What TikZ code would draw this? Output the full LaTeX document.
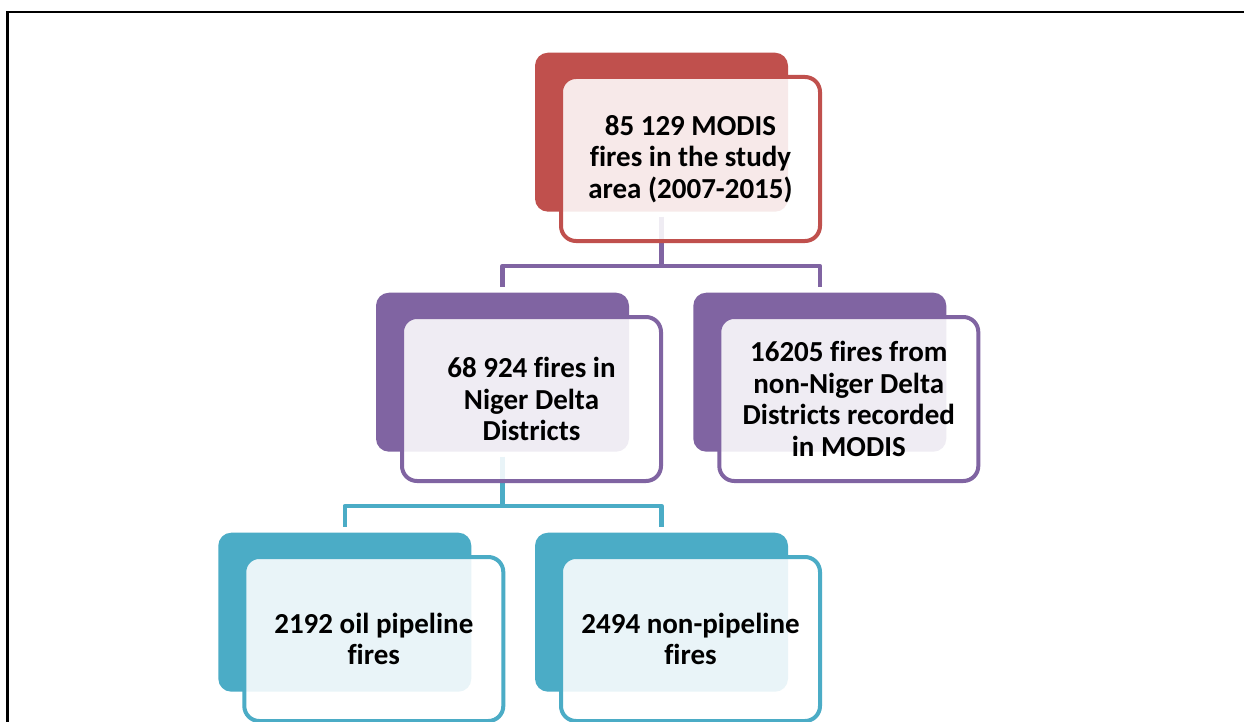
\documentclass[tikz,border=0pt]{standalone}
\usepackage{fontspec}
\setmainfont{Carlito}[Ligatures=NoCommon]
\usetikzlibrary{calc}
\pgfdeclarelayer{back}
\pgfdeclarelayer{bg}
\pgfsetlayers{back,bg,main}
\definecolor{cred}{HTML}{C0504D}
\definecolor{cpurple}{HTML}{8064A2}
\definecolor{cteal}{HTML}{4BACC6}
\begin{document}
\begin{tikzpicture}[x=1pt,y=-1pt,
  darkbox/.style={rectangle, rounded corners=13pt, minimum width=253pt, minimum height=159pt, fill=#1, inner sep=0pt},
  frontbox/.style={rectangle, rounded corners=15pt, minimum width=259pt, minimum height=164pt, draw=#1, line width=4pt, fill=white, fill opacity=0.88, text opacity=1, align=center, inner sep=0pt, font=\fontsize{29}{31.5}\selectfont\bfseries},
  conn/.style={draw=#1, line width=4.5pt, line join=round},
  frame/.style={line width=2.2pt, draw=black}]
\clip (0,0) rectangle (1244,722);
\begin{pgfonlayer}{back}
\fill[white] (0,0) rectangle (1244,722);
\end{pgfonlayer}
% frame
\draw[frame] (7.5,760) -- (7.5,12) -- (1260,12);
% dark back boxes
\node[darkbox=cred]    (d1) at (661.5,132.2) {};
\node[darkbox=cpurple] (d2) at (502.5,372.2) {};
\node[darkbox=cpurple] (d3) at (819.8,372.2) {};
\node[darkbox=cteal]   (d4) at (344.8,612.2) {};
\node[darkbox=cteal]   (d5) at (661.5,612.2) {};
% front boxes
\node[frontbox=cred]    (f1) at ($(d1)+(29,26.8)$) {85 129 MODIS\\fires in the study\\area (2007-2015)};
\node[frontbox=cpurple] (f2) at ($(d2)+(29,26.8)$) {68 924 fires in\\Niger Delta\\Districts};
\node[frontbox=cpurple] (f3) at ($(d3)+(29,26.8)$) {16205 fires from\\non-Niger Delta\\Districts recorded\\in MODIS};
\node[frontbox=cteal]   (f4) at ($(d4)+(29,26.8)$) {2192 oil pipeline\\fires};
\node[frontbox=cteal]   (f5) at ($(d5)+(29,26.8)$) {2494 non-pipeline\\fires};
% connectors (below the boxes)
\begin{pgfonlayer}{bg}
\draw[conn=cpurple] ([yshift=-5pt]d1.south) -- (d1.south |- 0,266);
\draw[conn=cpurple] ([yshift=6pt]d2.north) -- (d2.north |- 0,266) -- (d3.north |- 0,266) -- ([yshift=6pt]d3.north);
\draw[conn=cteal] ([yshift=-5pt]d2.south) -- (d2.south |- 0,506);
\draw[conn=cteal] ([yshift=6pt]d4.north) -- (d4.north |- 0,506) -- (d5.north |- 0,506) -- ([yshift=6pt]d5.north);
\end{pgfonlayer}
\end{tikzpicture}
\end{document}
